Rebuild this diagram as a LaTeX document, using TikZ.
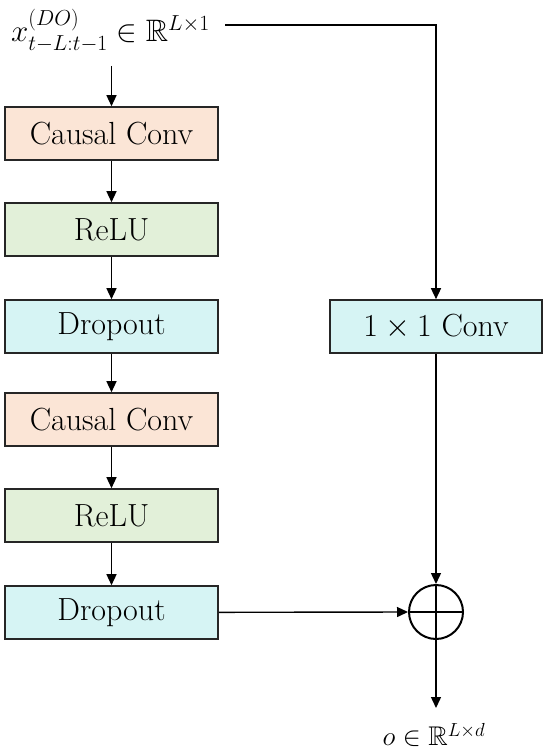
\RequirePackage{fix-cm}
\documentclass[tikz,border=0pt]{standalone}
\usepackage{amsmath,amssymb}
\usetikzlibrary{arrows.meta}
\definecolor{peach}{HTML}{FBE5D6}
\definecolor{lgreen}{HTML}{E2F0D9}
\definecolor{lcyan}{HTML}{D6F4F4}
\begin{document}
\begin{tikzpicture}[x=1pt,y=-1pt,
  blk/.style={draw=black!85,line width=1.6pt,minimum width=213pt,minimum height=53pt,inner sep=0pt,font=\fontsize{32}{36}\selectfont},
  arr/.style={line width=1.4pt,-{Triangle[length=11pt,width=10pt]}},
  lbl/.style={inner sep=0pt,font=\fontsize{27}{30}\selectfont}]
\useasboundingbox (0,0) rectangle (550,754);
\node[blk,fill=peach] (cc1) at (111.5,133.5) {Causal Conv};
\node[blk,fill=lgreen] (re1) at (111.5,229.5) {ReLU};
\node[blk,fill=lcyan] (do1) at (111.5,326.5) {Dropout};
\node[blk,fill=peach] (cc2) at (111.5,419.5) {Causal Conv};
\node[blk,fill=lgreen] (re2) at (111.5,515.5) {ReLU};
\node[blk,fill=lcyan] (do2) at (111.5,612.5) {Dropout};
\node[blk,fill=lcyan,minimum width=212pt] (one) at (436,326.5) {$1\times 1$ Conv};
\node[draw,line width=2pt,circle,minimum size=54pt,inner sep=0pt] (sum) at (436,612) {};
\draw[line width=2pt] (sum.north) -- (sum.south) (sum.west) -- (sum.east);
\node[lbl,anchor=west,font=\fontsize{31}{34}\selectfont] (in) at (11,31) {$x^{(DO)}_{t-L:t-1}\in\mathbb{R}^{L\times 1}$};
\node[lbl] (out) at (434,735) {$o\in\mathbb{R}^{L\times d}$};
\coordinate (inb) at (111.5,66);
\coordinate (ine) at (225,25);
\coordinate (outt) at (436,708);
\draw[arr] (inb) -- (cc1.north);
\draw[arr] (cc1) -- (re1);
\draw[arr] (re1) -- (do1);
\draw[arr] (do1) -- (cc2);
\draw[arr] (cc2) -- (re2);
\draw[arr] (re2) -- (do2);
\draw[arr] (ine) -| (one.north);
\draw[arr] (one) -- (sum.north);
\draw[arr] (do2) -- (sum.west);
\draw[arr] (sum.south) -- (outt);
\end{tikzpicture}
\end{document}
